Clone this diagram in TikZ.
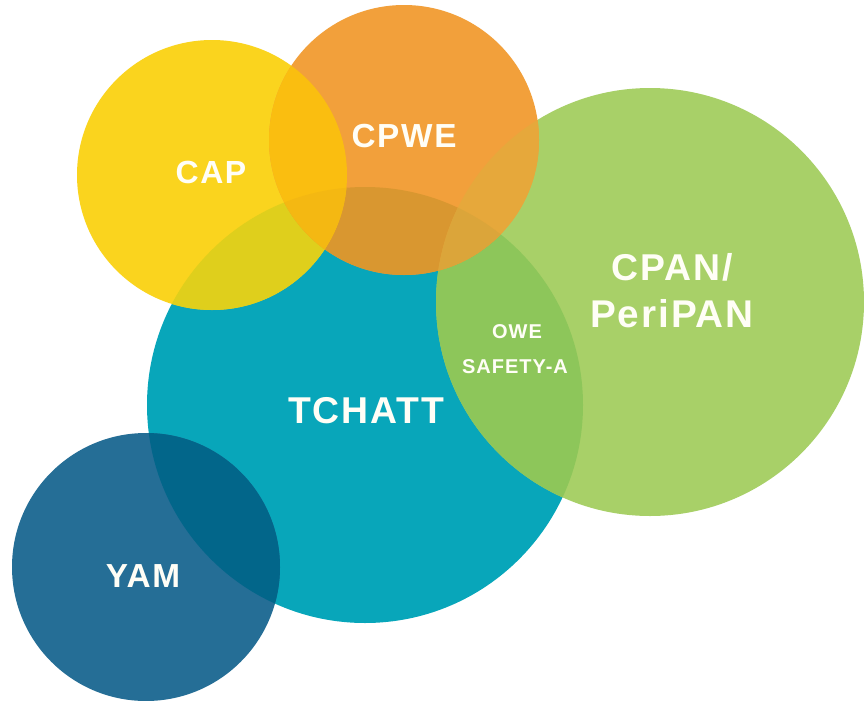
\documentclass[tikz,border=0pt]{standalone}
\usepackage{fontspec}
\newfontfamily\labfont[LetterSpace=5]{Liberation Sans}
\definecolor{cteal}{HTML}{08A6BA}
\definecolor{cyam}{HTML}{256E96}
\definecolor{cyamteal}{HTML}{02668A}
\definecolor{cyellow}{HTML}{FAD41E}
\definecolor{colive}{HTML}{DFCF1C}
\definecolor{corange}{HTML}{F2A03B}
\definecolor{corangeteal}{HTML}{D99730}
\definecolor{cgold}{HTML}{FABE10}
\definecolor{cgoldteal}{HTML}{F4B812}
\definecolor{cgreen}{HTML}{A8D068}
\definecolor{cgreenteal}{HTML}{8DC65A}
\definecolor{corangegreen}{HTML}{E6A83B}
\definecolor{corangegreenteal}{HTML}{DBA53A}
\definecolor{ctext}{HTML}{FFFEF6}
\def\cTch{(365,405) circle[radius=163.5pt]}
\def\cYam{(146,567) circle[radius=100.5pt]}
\def\cCap{(212,175) circle[radius=101.25pt]}
\def\cCpwe{(404,140) circle[radius=101.25pt]}
\def\cCpan{(650,302) circle[radius=160.5pt]}
\begin{document}
\begin{tikzpicture}[x=0.75pt,y=-0.75pt,
  lab/.style={text=ctext,inner sep=0pt,anchor=base,font=\labfont\bfseries}]
\useasboundingbox (0,0) rectangle (864,700);
\fill[white] (0,0) rectangle (864,700);
% TCHATT
\fill[cteal] \cTch;
% YAM
\fill[cyam] \cYam;
\begin{scope}\clip \cYam; \fill[cyamteal] \cTch; \end{scope}
% CAP
\fill[cyellow] \cCap;
\begin{scope}\clip \cCap; \fill[colive] \cTch; \end{scope}
% CPAN
\fill[cgreen] \cCpan;
\begin{scope}\clip \cCpan; \fill[cgreenteal] \cTch; \end{scope}
% CPWE
\fill[corange] \cCpwe;
\begin{scope}\clip \cCpwe; \fill[corangeteal] \cTch; \end{scope}
\begin{scope}\clip \cCpwe; \fill[cgold] \cCap; \end{scope}
\begin{scope}\clip \cCpwe; \clip \cCap; \fill[cgoldteal] \cTch; \end{scope}
\begin{scope}\clip \cCpwe; \fill[corangegreen] \cCpan; \end{scope}
\begin{scope}\clip \cCpwe; \clip \cCpan; \fill[corangegreenteal] \cTch; \end{scope}
% labels
\node[lab,font=\labfont\bfseries\fontsize{24pt}{28pt}\selectfont] (cap) at (211,183) {CAP};
\node[lab,font=\labfont\bfseries\fontsize{25pt}{30pt}\selectfont] (cpwe) at (404,147) {CPWE};
\node[lab,font=\labfont\bfseries\fontsize{28pt}{32pt}\selectfont] (cpan) at (672,280) {CPAN/};
\node[lab,font=\labfont\bfseries\fontsize{29pt}{32pt}\selectfont] (peripan) at (672,327) {PeriPAN};
\node[lab,font=\labfont\bfseries\fontsize{15pt}{18pt}\selectfont] (owe) at (517,338) {OWE};
\node[lab,font=\labfont\bfseries\fontsize{15pt}{18pt}\selectfont] (safety) at (515,373) {SAFETY-A};
\node[lab,font=\labfont\bfseries\fontsize{28pt}{32pt}\selectfont] (tchatt) at (366,423) {TCHATT};
\node[lab,font=\labfont\bfseries\fontsize{25pt}{30pt}\selectfont] (yam) at (143,587) {YAM};
\end{tikzpicture}
\end{document}
